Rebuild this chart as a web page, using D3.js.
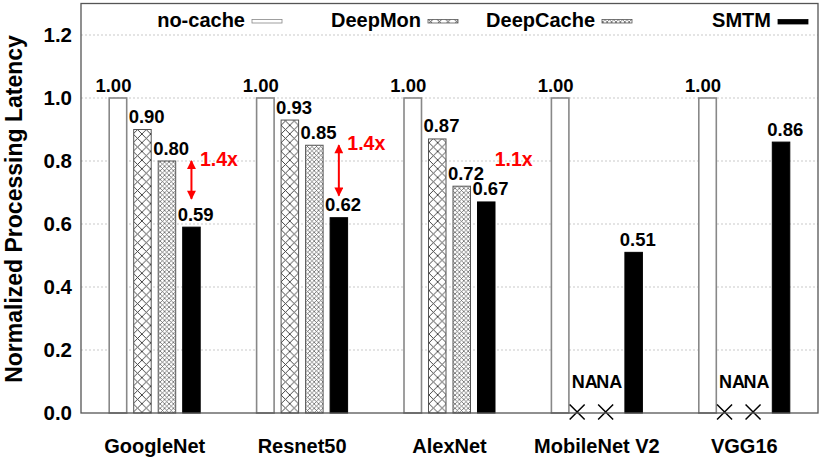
<!DOCTYPE html>
<html>
<head>
<meta charset="utf-8">
<script src="https://cdn.jsdelivr.net/npm/d3@7"></script>
<style>
  body { margin: 0; background: #fff; }
  text { font-family: "Liberation Sans", Arial, Helvetica, sans-serif; font-weight: bold; }
</style>
</head>
<body>
<div id="chart"></div>
<script>
// chart data
var models = ["GoogleNet", "Resnet50", "AlexNet", "MobileNet V2", "VGG16"];
var methods = ["no-cache", "DeepMon", "DeepCache", "SMTM"];
var noCache = [1.00, 1.00, 1.00, 1.00, 1.00];
var deepMon = [0.90, 0.93, 0.87, null, null];
var deepCache = [0.80, 0.85, 0.72, null, null];
var smtm = [0.59, 0.62, 0.67, 0.51, 0.86];
var yTicks = [0, 0.2, 0.4, 0.6, 0.8, 1.0, 1.2];
// speedup notes: arrow from DeepCache level down towards SMTM
var speedText = ["1.4x", "1.4x", "1.1x"];
var speedModel = ["GoogleNet", "Resnet50", "AlexNet"];
var arrowFrom = [0.80, 0.85, null];
var arrowTo = [0.68, 0.69, null];
var speedLabelAt = [0.785, 0.835, 0.785];

var svgWidth = 832, svgHeight = 466;
var margin = { top: 3.5, right: 14, bottom: 53, left: 81 };
var chartWidth = svgWidth - margin.left - margin.right;
var chartHeight = svgHeight - margin.top - margin.bottom;

var svg = d3.select("#chart").append("svg")
  .attr("width", svgWidth)
  .attr("height", svgHeight);

// patterns for DeepMon / DeepCache
var defs = svg.append("defs");
function hatch(id, size, color, sw) {
  var p = defs.append("pattern")
    .attr("id", id)
    .attr("patternUnits", "userSpaceOnUse")
    .attr("width", size).attr("height", size);
  p.append("rect").attr("width", size).attr("height", size).attr("fill", "#fff");
  p.append("path")
    .attr("d", `M0,0L${size},${size}M0,${size}L${size},0`)
    .attr("stroke", color).attr("stroke-width", sw).attr("fill", "none");
}
hatch("pMon", 8.7, "#333", 0.9);
hatch("pCache", 4.4, "#555", 0.7);

var fills = { "no-cache": "#fff", "DeepMon": "url(#pMon)", "DeepCache": "url(#pCache)", "SMTM": "#000" };
var strokes = { "no-cache": "#888", "DeepMon": "#555", "DeepCache": "#555", "SMTM": "#000" };

var chartGroup = svg.append("g")
  .attr("transform", `translate(${margin.left}, ${margin.top})`);

var x0 = d3.scaleBand().domain(models).range([0, chartWidth]).padding(0);
var x1 = d3.scaleBand().domain(methods).range([0, 91]).paddingInner(0.2857).paddingOuter(0);
var y = d3.scaleLinear().domain([0, 1.3]).range([chartHeight, 0]);

function barX(model, method) {
  return x0(model) + x0.bandwidth() / 2 - 45.5 + x1(method);
}
function barMid(model, method) {
  return barX(model, method) + x1.bandwidth() / 2;
}

// grid
chartGroup.append("g").selectAll("line")
  .data(yTicks.filter(d => d > 0))
  .enter().append("line")
  .attr("x1", 0).attr("x2", chartWidth)
  .attr("y1", d => y(d)).attr("y2", d => y(d))
  .attr("stroke", "#bbb").attr("stroke-width", 0.8)
  .attr("stroke-dasharray", "2,2");

// y axis labels
var leftAxis = d3.axisLeft(y).tickValues(yTicks).tickFormat(d3.format(".1f")).tickSize(0).tickPadding(9);
var yAxisG = chartGroup.append("g").call(leftAxis);
yAxisG.select(".domain").remove();
yAxisG.selectAll("text").style("font-size", "20.5px").attr("fill", "#000")
  .style("font-family", "'Liberation Sans', Arial, sans-serif").style("font-weight", "bold");

// x axis labels
var bottomAxis = d3.axisBottom(x0).tickSize(0).tickPadding(26);
var xAxisG = chartGroup.append("g")
  .attr("transform", `translate(0, ${chartHeight})`)
  .call(bottomAxis);
xAxisG.select(".domain").remove();
xAxisG.selectAll("text").style("font-size", "20px").attr("fill", "#000")
  .style("font-family", "'Liberation Sans', Arial, sans-serif").style("font-weight", "bold");

// bars
var rows = [];
models.forEach(function(m, i) {
  [noCache[i], deepMon[i], deepCache[i], smtm[i]].forEach(function(v, j) {
    rows.push({ model: m, method: methods[j], value: v });
  });
});
var present = rows.filter(d => d.value !== null);
var missing = rows.filter(d => d.value === null);

chartGroup.append("g").selectAll("rect")
  .data(present)
  .enter().append("rect")
  .attr("x", d => barX(d.model, d.method))
  .attr("y", d => y(d.value))
  .attr("width", x1.bandwidth())
  .attr("height", d => y(0) - y(d.value))
  .attr("fill", d => fills[d.method])
  .attr("stroke", d => strokes[d.method])
  .attr("stroke-width", d => d.method === "no-cache" ? 1.6 : 1);

// value labels
chartGroup.append("g").selectAll("text")
  .data(present)
  .enter().append("text")
  .attr("x", d => barMid(d.model, d.method) + (d.method === "no-cache" ? -4.5 : 4.2))
  .attr("y", d => y(d.value) - 6.5)
  .attr("text-anchor", "middle")
  .style("font-size", "18.5px")
  .text(d => d.value.toFixed(2));

// NA labels and crosses
chartGroup.append("g").selectAll("text")
  .data(missing)
  .enter().append("text")
  .attr("x", d => barMid(d.model, d.method))
  .attr("y", y(0) - 25)
  .attr("text-anchor", "middle")
  .style("font-size", "18px")
  .text("NA");

chartGroup.append("g").selectAll("path")
  .data(missing)
  .enter().append("path")
  .attr("transform", d => `translate(${barMid(d.model, d.method) + (d.method === "DeepMon" ? -7.5 : -3.5)}, ${y(0) - 1})`)
  .attr("d", "M-7.5,-7.5L7.5,7.5M-7.5,7.5L7.5,-7.5")
  .attr("stroke", "#000").attr("stroke-width", 1.5).attr("fill", "none");

// frame
chartGroup.append("rect")
  .attr("width", chartWidth).attr("height", chartHeight)
  .attr("fill", "none").attr("stroke", "#555").attr("stroke-width", 1.3);

// speedup arrows
defs.append("marker")
  .attr("id", "head").attr("viewBox", "0 0 10 10")
  .attr("refX", 9).attr("refY", 5)
  .attr("markerWidth", 5).attr("markerHeight", 4.5)
  .attr("orient", "auto-start-reverse")
  .append("path").attr("d", "M0,0L10,5L0,10z").attr("fill", "#f00");

speedModel.forEach(function(m, i) {
  var cx = barMid(m, "SMTM");
  if (arrowFrom[i] !== null) {
    chartGroup.append("line")
      .attr("x1", cx).attr("x2", cx)
      .attr("y1", y(arrowFrom[i])).attr("y2", y(arrowTo[i]))
      .attr("stroke", "#f00").attr("stroke-width", 2)
      .attr("marker-start", "url(#head)")
      .attr("marker-end", "url(#head)");
  }
  chartGroup.append("text")
    .attr("x", cx + 8.5)
    .attr("y", y(speedLabelAt[i]))
    .attr("fill", "#f00")
    .style("font-size", "19.5px")
    .text(speedText[i]);
});

// legend
var legendRight = [245, 421, 595, 771];
var legend = svg.append("g");
methods.forEach(function(m, i) {
  legend.append("text")
    .attr("x", legendRight[i]).attr("y", 27)
    .attr("text-anchor", "end")
    .style("font-size", "20px")
    .text(m);
  legend.append("rect")
    .attr("x", legendRight[i] + 7).attr("y", 19.5)
    .attr("width", 30).attr("height", m === "SMTM" ? 4.5 : 3.5)
    .attr("fill", fills[m])
    .attr("stroke", strokes[m]).attr("stroke-width", 0.8);
});

// y axis title
svg.append("text")
  .attr("transform", "translate(22, 209) rotate(-90)")
  .attr("text-anchor", "middle")
  .style("font-size", "23px")
  .text("Normalized Processing Latency");
</script>
</body>
</html>
